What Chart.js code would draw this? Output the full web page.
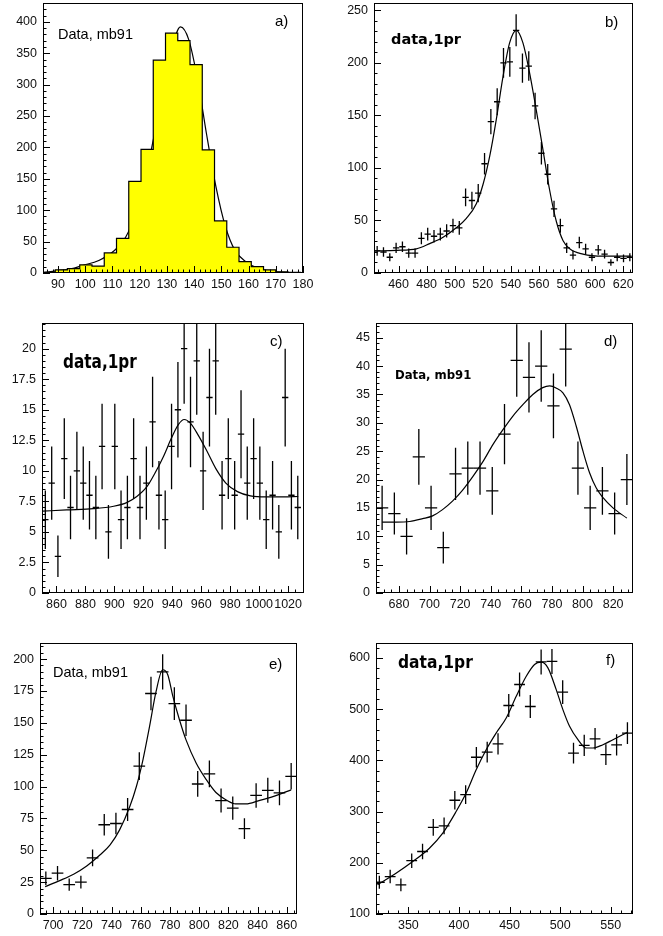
<!DOCTYPE html>
<html>
<head>
<meta charset="utf-8">
<script src="https://cdn.jsdelivr.net/npm/chart.js@4.4.1/dist/chart.umd.min.js"></script>
<style>
  html, body { margin: 0; padding: 0; background: #fff; }
  body { width: 663px; height: 936px; position: relative; overflow: hidden; }
  canvas { position: absolute; }
  .note { position: absolute; line-height: 1; white-space: nowrap; color: #000; transform-origin: 0 0; }
  .roman { font-family: "Liberation Sans", Arial, sans-serif; }
  .bold { font-family: "DejaVu Sans", sans-serif; font-weight: bold; }
  .tag { font-family: "Liberation Sans", Arial, sans-serif; font-size: 15px; }
</style>
</head>
<body>
<canvas id="panelA"></canvas>
<canvas id="panelB"></canvas>
<canvas id="panelC"></canvas>
<canvas id="panelD"></canvas>
<canvas id="panelE"></canvas>
<canvas id="panelF"></canvas>

<div class="note roman" style="left:58px;top:27px;font-size:14.5px">Data, mb91</div>
<div class="note tag" style="left:275px;top:12.5px">a)</div>
<div class="note bold" style="left:391px;top:31.5px;font-size:14.5px">data,1pr</div>
<div class="note tag" style="left:605px;top:13.5px">b)</div>
<div class="note bold" style="left:63px;top:353.4px;font-size:15.3px;transform:scaleY(1.22)">data,1pr</div>
<div class="note tag" style="left:270px;top:333.3px">c)</div>
<div class="note bold" style="left:395px;top:370.3px;font-size:11.7px">Data, mb91</div>
<div class="note tag" style="left:604px;top:333.3px">d)</div>
<div class="note roman" style="left:53px;top:665.4px;font-size:14.5px">Data, mb91</div>
<div class="note tag" style="left:269px;top:655.6px">e)</div>
<div class="note bold" style="left:398px;top:655.3px;font-size:15.5px;transform:scaleY(1.08)">data,1pr</div>
<div class="note tag" style="left:606px;top:651.6px">f)</div>

<script>
// a) histogram
const aEdges = [84.5, 89, 93.5, 98, 102.5, 107, 111.5, 116, 120.5, 125, 129.5, 134, 138.5, 143, 147.5, 152, 156.5, 161, 165.5, 170, 174.5, 179];
const aCounts = [1, 5, 7, 13, 11, 32, 55, 146, 197, 339, 382, 370, 332, 196, 83, 41, 18, 10, 5, 2, 1];
const aFitX = [85, 92, 96, 99, 105, 110.5, 115, 118.5, 122, 125, 128.5, 131.5, 135, 138, 141.5, 144.5, 148, 151.5, 155, 159, 164, 170, 179];
const aFitY = [1, 5, 8, 12, 20, 35, 58, 95, 148, 212, 287, 351, 392, 372, 303, 223, 138, 74, 36, 18, 7, 2, 0.5];

// b)
const bBinWidth = 4.5;
const bX = [444.75, 449.25, 453.75, 458.25, 462.75, 467.25, 471.75, 476.25, 480.75, 485.25, 489.75, 494.25, 498.75, 503.25, 507.75, 512.25, 516.75, 521.25, 525.75, 530.25, 534.75, 539.25, 543.75, 548.25, 552.75, 557.25, 561.75, 566.25, 570.75, 575.25, 579.75, 584.25, 588.75, 593.25, 597.75, 602.25, 606.75, 611.25, 615.75, 620.25, 624.75];
const bY = [21, 20, 15, 24, 25, 19, 19, 33, 37, 35, 37, 40, 45, 43, 72, 69, 76, 104, 144, 163, 200, 201, 231, 195, 197, 159, 114, 94, 61, 45, 24, 17, 29, 23, 15, 22, 18, 10, 15, 14, 15];
const bErr = [4.6, 4.5, 3.9, 4.9, 5, 4.4, 4.4, 5.7, 6.1, 5.9, 6.1, 6.3, 6.7, 6.6, 8.5, 8.3, 8.7, 10.2, 12, 12.8, 14.1, 14.2, 15.2, 14, 14, 12.6, 10.7, 9.7, 7.8, 6.7, 4.9, 4.1, 5.4, 4.8, 3.9, 4.7, 4.2, 3.2, 3.9, 3.7, 3.9];
const bFitX = [443, 458.4, 472.7, 482.2, 491.7, 501.1, 508.3, 515.4, 520.1, 524.9, 529.6, 534.4, 539.1, 543.9, 548.6, 553.4, 558.1, 562.9, 567.6, 572.4, 577.1, 581.9, 591.4, 605.6, 626];
const bFitY = [21, 21.6, 23, 28, 34, 43, 52, 66, 84, 111, 146, 187, 219, 231, 219, 190, 155, 117, 79, 49, 31, 23, 18, 16, 16];

// c)
const cBinWidth = 4.36;
const cX = [852.3, 856.7, 861.0, 865.4, 869.7, 874.1, 878.5, 882.8, 887.2, 891.5, 895.9, 900.3, 904.6, 909.0, 913.3, 917.7, 922.1, 926.4, 930.8, 935.1, 939.5, 943.9, 948.2, 952.6, 956.9, 961.3, 965.7, 970.0, 974.4, 978.7, 983.1, 987.5, 991.8, 996.2, 1000.5, 1004.9, 1009.3, 1013.6, 1018.0, 1022.3, 1026.7];
const cY = [6, 9, 3, 11, 7, 10, 9, 8, 7, 12, 5, 12, 6, 7, 11, 7, 9, 14, 8, 6, 12, 15, 20, 14, 19, 10, 16, 19, 8, 11, 8, 13, 9, 11, 9, 6, 8, 5, 16, 8, 7];
const cErr = [2.4, 3, 1.7, 3.3, 2.6, 3.2, 3, 2.8, 2.6, 3.5, 2.2, 3.5, 2.4, 2.6, 3.3, 2.6, 3, 3.7, 2.8, 2.4, 3.5, 3.9, 4.5, 3.7, 4.4, 3.2, 4, 4.4, 2.8, 3.3, 2.8, 3.6, 3, 3.3, 3, 2.4, 2.8, 2.2, 4, 2.8, 2.6];
const cFitX = [850.5, 867, 885.5, 899.5, 908.5, 915.5, 922.5, 928, 934, 939.5, 944.3, 948.2, 952.5, 958, 964, 970, 977, 985, 994, 1005, 1017, 1027];
const cFitY = [6.7, 6.8, 6.9, 7.1, 7.4, 7.9, 8.7, 9.8, 11.2, 12.7, 13.8, 14.2, 13.9, 12.9, 11.6, 10.2, 9.0, 8.3, 7.95, 7.87, 7.87, 7.9];

// d)
const dBinWidth = 8;
const dX = [669, 677, 685, 693, 701, 709, 717, 725, 733, 741, 749, 757, 765, 773, 781, 789, 797, 805, 813, 821, 829];
const dY = [15, 14, 10, 24, 15, 8, 21, 22, 22, 18, 28, 41, 38, 40, 33, 43, 22, 15, 18, 14, 20];
const dErr = [3.9, 3.7, 3.2, 4.9, 3.9, 2.8, 4.6, 4.7, 4.7, 4.2, 5.3, 6.4, 6.2, 6.3, 5.7, 6.6, 4.7, 3.9, 4.2, 3.7, 4.5];
const dFitX = [669, 678, 687, 695.5, 702, 708.5, 715, 721.5, 728.5, 735, 741.5, 748, 754.5, 761, 767.5, 774, 778.5, 783, 787.2, 791.5, 795.9, 800.3, 804.6, 809, 813.4, 819.9, 829];
const dFitY = [12.5, 12.5, 12.6, 13.1, 13.6, 14.7, 16.2, 18.1, 20.6, 23.2, 26.2, 28.8, 31.2, 33.2, 35, 36.2, 36.5, 36.1, 35.3, 33.2, 29.4, 25, 21.2, 18.5, 16.8, 15, 13.2];

// e)
const eBinWidth = 8;
const eX = [695, 703, 711, 719, 727, 735, 743, 751, 759, 767, 775, 783, 791, 799, 807, 815, 823, 831, 839, 847, 855, 863];
const eY = [28, 32, 23, 25, 44, 70, 71, 82, 116, 173, 190, 165, 152, 102, 110, 89, 83, 67, 93, 97, 95, 108];
const eErr = [5.3, 5.7, 4.8, 5, 6.6, 8.4, 8.4, 9.1, 10.8, 13.2, 13.8, 12.8, 12.3, 10.1, 10.5, 9.4, 9.1, 8.2, 9.6, 9.8, 9.7, 10.4];
const eFitX = [694.5, 704.5, 714, 723, 732, 739, 745.5, 752.5, 757, 761.5, 766, 770.5, 775, 778.5, 782, 786.5, 791, 798, 805, 811.5, 818.5, 825, 832, 841, 850.5, 863];
const eFitY = [21.5, 26.2, 31.2, 37.7, 46.3, 54.2, 66, 84.3, 100, 121, 147, 174.6, 191.6, 187.7, 170.7, 152.4, 136.6, 118.3, 105.2, 95.3, 89.5, 86.4, 86.4, 89, 92.1, 97.4];

// f)
const fBinWidth = 10.66;
const fX = [321.3, 332.0, 342.6, 353.3, 364.0, 374.6, 385.3, 395.9, 406.6, 417.2, 427.9, 438.6, 449.2, 459.9, 470.5, 481.2, 491.9, 502.5, 513.2, 523.8, 534.5, 545.2, 555.8, 566.5];
const fY = [162, 173, 157, 204, 222, 269, 272, 322, 333, 406, 416, 432, 507, 548, 505, 592, 593, 533, 414, 429, 442, 411, 430, 453];
const fErr = [12.7, 13.2, 12.5, 14.3, 14.9, 16.4, 16.5, 17.9, 18.2, 20.1, 20.4, 20.8, 22.5, 23.4, 22.5, 24.3, 24.4, 23.1, 20.3, 20.7, 21, 20.3, 20.7, 21.3];
const fFitX = [319.5, 337.8, 354.3, 370.8, 384, 397.2, 407.1, 417, 426.9, 436.8, 446.7, 456.6, 466.5, 474.7, 481.3, 487.9, 496.1, 502.7, 509.3, 517.6, 525.8, 532.4, 542.3, 552.2, 566.5];
const fFitY = [157, 179.5, 202.3, 228.4, 257.8, 300, 336, 381.6, 420.7, 453.3, 482.7, 525, 564, 587, 591.5, 580.4, 538, 499, 466.4, 440.3, 424, 424, 430.5, 440.3, 454.6];

Chart.defaults.font.family = '"Liberation Sans", Arial, sans-serif';
Chart.defaults.font.size = 12.5;
Chart.defaults.color = "#111";

const pts = (xs, ys) => xs.map((x, i) => ({ x, y: ys[i] }));

function eachTick(scale, minor, draw) {
  const major = scale.options.ticks.stepSize;
  const first = Math.ceil(scale.min / minor - 1e-6);
  const last = Math.floor(scale.max / minor + 1e-6);
  for (let k = first; k <= last; k += 1) {
    const v = k * minor;
    const ratio = v / major;
    draw(v, Math.abs(ratio - Math.round(ratio)) < 1e-6);
  }
}

// frame box and inward ticks like the original plots
const rootAxes = {
  id: "rootAxes",
  afterDraw(chart, args, opts) {
    const { ctx, chartArea: area } = chart;
    const xs = chart.scales.x;
    const ys = chart.scales.y;
    ctx.save();
    ctx.strokeStyle = "#000";
    ctx.lineWidth = 1;
    ctx.beginPath();
    eachTick(xs, opts.xMinor, (v, major) => {
      const px = Math.round(xs.getPixelForValue(v)) + 0.5;
      ctx.moveTo(px, area.bottom);
      ctx.lineTo(px, area.bottom - (major ? 7 : 3.5));
    });
    eachTick(ys, opts.yMinor, (v, major) => {
      const py = Math.round(ys.getPixelForValue(v)) + 0.5;
      ctx.moveTo(area.left, py);
      ctx.lineTo(area.left + (major ? 7 : 3.5), py);
    });
    ctx.stroke();
    ctx.strokeRect(area.left + 0.5, area.top + 0.5, area.right - area.left - 1, area.bottom - area.top - 1);
    ctx.restore();
  },
};

const errorBars = {
  id: "errorBars",
  afterDatasetsDraw(chart) {
    const { ctx, chartArea: area } = chart;
    const xs = chart.scales.x;
    const ys = chart.scales.y;
    ctx.save();
    ctx.beginPath();
    ctx.rect(area.left, area.top, area.right - area.left, area.bottom - area.top);
    ctx.clip();
    ctx.strokeStyle = "#000";
    ctx.lineWidth = 1.3;
    chart.data.datasets.forEach((ds) => {
      if (!ds.errors) return;
      ds.data.forEach((p, i) => {
        const px = xs.getPixelForValue(p.x);
        const py = ys.getPixelForValue(p.y);
        ctx.beginPath();
        ctx.moveTo(xs.getPixelForValue(p.x - ds.halfWidth), py);
        ctx.lineTo(xs.getPixelForValue(p.x + ds.halfWidth), py);
        ctx.moveTo(px, ys.getPixelForValue(p.y + ds.errors[i]));
        ctx.lineTo(px, ys.getPixelForValue(p.y - ds.errors[i]));
        ctx.stroke();
      });
    });
    ctx.restore();
  },
};

function fitCurve(xs, ys) {
  return {
    data: pts(xs, ys),
    borderColor: "#000",
    borderWidth: 1.2,
    pointRadius: 0,
    fill: false,
    cubicInterpolationMode: "monotone",
  };
}

function measured(xs, ys, errs, binWidth) {
  return {
    data: pts(xs, ys),
    showLine: false,
    pointRadius: 0,
    errors: errs,
    halfWidth: binWidth / 2,
  };
}

const tickLabel = (v) => String(Math.round(v * 1000) / 1000);

function buildPanel(cfg) {
  const canvas = document.getElementById(cfg.id);
  const box = cfg.box;
  const frame = cfg.frame;
  canvas.width = box.w;
  canvas.height = box.h;
  canvas.style.left = box.x + "px";
  canvas.style.top = box.y + "px";
  const yWidth = frame.l - box.x;
  const xHeight = box.y + box.h - frame.b;

  return new Chart(canvas, {
    type: "line",
    data: { datasets: cfg.datasets },
    options: {
      responsive: false,
      animation: false,
      devicePixelRatio: 1,
      events: [],
      layout: {
        padding: { left: 0, top: frame.t - box.y, right: box.x + box.w - frame.r, bottom: 0 },
      },
      plugins: {
        legend: { display: false },
        tooltip: { enabled: false },
        rootAxes: { xMinor: cfg.xMinor, yMinor: cfg.yMinor },
      },
      scales: {
        x: {
          type: "linear",
          min: cfg.x[0],
          max: cfg.x[1],
          grid: { display: false, drawTicks: false },
          border: { display: false },
          ticks: {
            stepSize: cfg.x[2],
            includeBounds: false,
            autoSkip: false,
            maxRotation: 0,
            padding: 4,
            callback: tickLabel,
          },
          afterFit(scale) {
            scale.height = xHeight;
            scale.paddingLeft = 0;
            scale.paddingRight = 0;
          },
        },
        y: {
          type: "linear",
          min: cfg.y[0],
          max: cfg.y[1],
          grid: { display: false, drawTicks: false },
          border: { display: false },
          ticks: {
            stepSize: cfg.y[2],
            includeBounds: false,
            autoSkip: false,
            maxTicksLimit: 20,
            padding: 6,
            callback: tickLabel,
          },
          afterFit(scale) {
            scale.width = yWidth;
            scale.paddingTop = 0;
            scale.paddingBottom = 0;
          },
        },
      },
    },
    plugins: [errorBars, rootAxes],
  });
}

const aHist = [{ x: aEdges[0], y: 0 }]
  .concat(aCounts.map((c, i) => ({ x: aEdges[i], y: c })))
  .concat([{ x: aEdges[aEdges.length - 1], y: 0 }]);

buildPanel({
  id: "panelA",
  box: { x: 0, y: 0, w: 330, h: 310 },
  frame: { l: 43, t: 3, r: 303, b: 273 },
  x: [84.5, 180, 10],
  y: [0, 430, 50],
  xMinor: 2,
  yMinor: 10,
  datasets: [
    {
      data: aHist,
      stepped: "before",
      fill: "origin",
      backgroundColor: "#ffff00",
      borderColor: "#000",
      borderWidth: 1.2,
      pointRadius: 0,
    },
    fitCurve(aFitX, aFitY),
  ],
});

buildPanel({
  id: "panelB",
  box: { x: 330, y: 0, w: 333, h: 310 },
  frame: { l: 374, t: 3, r: 633, b: 273 },
  x: [442.5, 627, 20],
  y: [0, 257, 50],
  xMinor: 5,
  yMinor: 10,
  datasets: [measured(bX, bY, bErr, bBinWidth), fitCurve(bFitX, bFitY)],
});

buildPanel({
  id: "panelC",
  box: { x: 0, y: 310, w: 330, h: 320 },
  frame: { l: 42, t: 323, r: 304, b: 593 },
  x: [850, 1031, 20],
  y: [0, 22.1, 2.5],
  xMinor: 5,
  yMinor: 0.5,
  datasets: [measured(cX, cY, cErr, cBinWidth), fitCurve(cFitX, cFitY)],
});

buildPanel({
  id: "panelD",
  box: { x: 330, y: 310, w: 333, h: 320 },
  frame: { l: 376, t: 323, r: 633, b: 593 },
  x: [665, 833, 20],
  y: [0, 47.6, 5],
  xMinor: 5,
  yMinor: 1,
  datasets: [measured(dX, dY, dErr, dBinWidth), fitCurve(dFitX, dFitY)],
});

buildPanel({
  id: "panelE",
  box: { x: 0, y: 630, w: 330, h: 306 },
  frame: { l: 40, t: 643, r: 297, b: 914 },
  x: [691, 867, 20],
  y: [0, 212.6, 25],
  xMinor: 5,
  yMinor: 5,
  datasets: [measured(eX, eY, eErr, eBinWidth), fitCurve(eFitX, eFitY)],
});

buildPanel({
  id: "panelF",
  box: { x: 330, y: 630, w: 333, h: 306 },
  frame: { l: 376, t: 643, r: 633, b: 914 },
  x: [318, 572, 50],
  y: [100, 629, 100],
  xMinor: 10,
  yMinor: 20,
  datasets: [measured(fX, fY, fErr, fBinWidth), fitCurve(fFitX, fFitY)],
});
</script>
</body>
</html>
